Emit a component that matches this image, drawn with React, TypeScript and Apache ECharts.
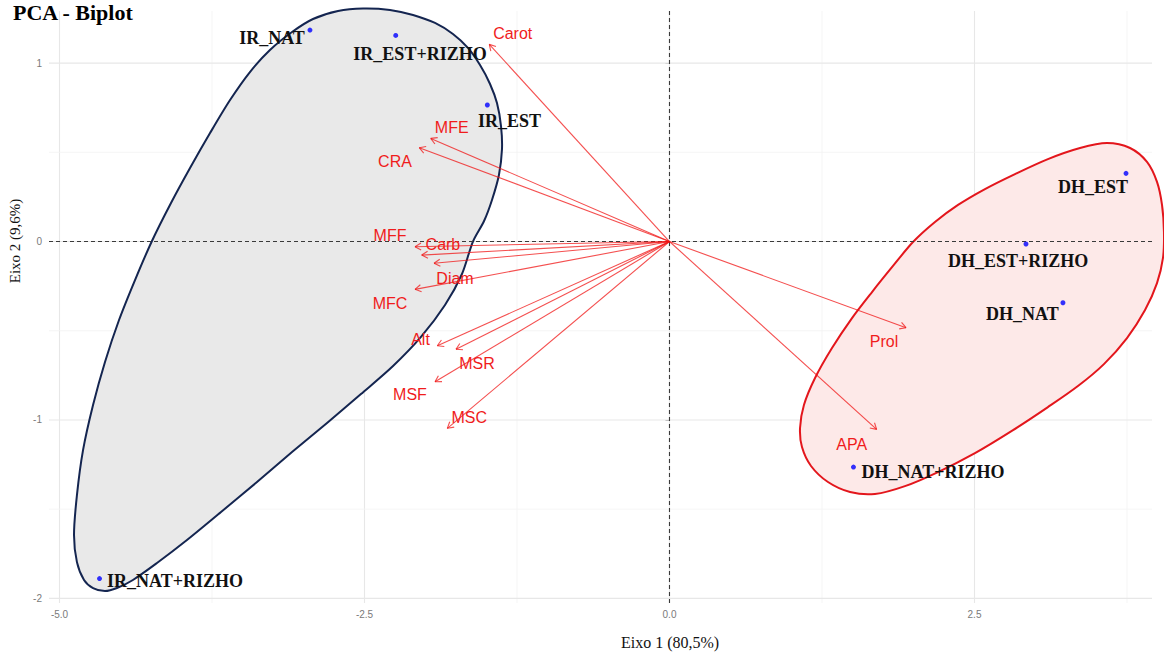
import React, { useEffect, useRef } from "react";
import * as echarts from "echarts";

// ---- data (PCA scores) ----
const obsNames = ["IR_NAT", "IR_EST+RIZHO", "IR_EST", "IR_NAT+RIZHO", "DH_EST", "DH_EST+RIZHO", "DH_NAT", "DH_NAT+RIZHO"];
const obsPC1 = [-2.947, -2.244, -1.493, -4.672, 3.742, 2.922, 3.225, 1.508];
const obsPC2 = [1.185, 1.155, 0.765, -1.889, 0.382, -0.014, -0.343, -1.264];
// repelled label anchors (data units)
const obsLabelPC1 = [-3.258, -2.045, -1.311, -4.053, 3.471, 2.857, 2.893, 2.16];
const obsLabelPC2 = [1.138, 1.051, 0.675, -1.903, 0.307, -0.107, -0.406, -1.294];

const varNames = ["Carot", "MFE", "CRA", "MFF", "Carb", "Diam", "MFC", "Alt", "MSR", "MSF", "MSC", "Prol", "APA"];
const varPC1 = [-1.477, -1.957, -2.051, -2.086, -2.031, -1.93, -2.086, -1.903, -1.75, -1.922, -1.821, 1.939, 1.698];
const varPC2 = [1.105, 0.578, 0.526, -0.029, -0.076, -0.122, -0.268, -0.584, -0.604, -0.786, -1.047, -0.483, -1.053];
const varLabelPC1 = [-1.285, -1.785, -2.25, -2.291, -1.857, -1.758, -2.291, -2.041, -1.578, -2.127, -1.641, 1.758, 1.493];
const varLabelPC2 = [1.167, 0.638, 0.451, 0.031, -0.014, -0.205, -0.35, -0.547, -0.681, -0.855, -0.985, -0.558, -1.135];

// group outlines (data units)
const irHullX = [-2.512, -2.291, -2.102, -1.922, -1.775, -1.652, -1.553, -1.471, -1.414, -1.381, -1.373, -1.398, -1.455, -1.52, -1.611, -1.701, -1.84, -2.037, -2.266, -2.529, -2.807, -3.094, -3.381, -3.676, -3.955, -4.201, -4.398, -4.529, -4.627, -4.725, -4.799, -4.857, -4.881, -4.857, -4.807, -4.725, -4.627, -4.512, -4.381, -4.242, -4.086, -3.93, -3.766, -3.602, -3.439, -3.275, -3.094, -2.922, -2.717];
const irHullY = [1.306, 1.298, 1.27, 1.225, 1.163, 1.085, 0.989, 0.883, 0.776, 0.647, 0.518, 0.373, 0.233, 0.115, 0, -0.182, -0.356, -0.535, -0.698, -0.855, -1.017, -1.18, -1.348, -1.516, -1.673, -1.802, -1.897, -1.942, -1.959, -1.942, -1.897, -1.797, -1.645, -1.421, -1.169, -0.916, -0.675, -0.44, -0.216, 0.003, 0.216, 0.412, 0.608, 0.793, 0.95, 1.073, 1.174, 1.247, 1.292];
const dhHullX = [3.586, 3.775, 3.914, 3.996, 4.037, 4.053, 4.045, 3.996, 3.898, 3.75, 3.561, 3.348, 3.102, 2.816, 2.504, 2.201, 1.93, 1.684, 1.48, 1.299, 1.16, 1.086, 1.07, 1.102, 1.193, 1.332, 1.496, 1.66, 1.832, 1.996, 2.176, 2.365, 2.586, 2.832, 3.102, 3.365];
const dhHullY = [0.552, 0.524, 0.446, 0.334, 0.205, 0.053, -0.092, -0.233, -0.384, -0.541, -0.687, -0.81, -0.928, -1.057, -1.186, -1.292, -1.371, -1.415, -1.404, -1.348, -1.258, -1.152, -1.045, -0.916, -0.765, -0.597, -0.429, -0.283, -0.137, -0.003, 0.109, 0.205, 0.294, 0.378, 0.462, 0.524];

const xMajor = [-5, -2.5, 0, 2.5];
const xMinor = [-3.75, -1.25, 1.25, 3.75];
const yMajor = [-2, -1, 0, 1];
const yMinor = [-1.5, -0.5, 0.5];

const X_MIN = -5.086;
const X_MAX = 3.955;
const Y_MIN = -2.026;
const Y_MAX = 1.292;

export default function App() {
  const ref = useRef<HTMLDivElement>(null);

  useEffect(() => {
    if (!ref.current) return;
    const chart = echarts.init(ref.current, undefined, { renderer: "svg" });

    const hullRender = (xs: number[], ys: number[], fill: string, stroke: string) =>
      (params: any, api: any) => {
        const pts = xs.map((x, i) => api.coord([x, ys[i]]));
        return {
          type: "polygon",
          shape: { points: pts, smooth: 0.3 },
          style: { fill, stroke, lineWidth: 2 },
        };
      };

    const gridData = [
      ...xMajor.map((v) => [v, 0, 1, 1]),
      ...xMinor.map((v) => [v, 0, 0, 1]),
      ...yMajor.map((v) => [0, v, 1, 0]),
      ...yMinor.map((v) => [0, v, 0, 0]),
    ];

    const option: any = {
      animation: false,
      backgroundColor: "#ffffff",
      grid: { left: 49, right: 12, top: 11, bottom: 52 },
      xAxis: {
        type: "value",
        min: X_MIN,
        max: X_MAX,
        splitLine: { show: false },
        axisLine: { show: false },
        axisTick: { show: true, customValues: xMajor, length: 4, lineStyle: { color: "#9a9a9a" } },
        axisLabel: {
          customValues: xMajor,
          formatter: (v: number) => v.toFixed(1),
          color: "#7a7a7a",
          fontSize: 10,
          margin: 6,
          fontFamily: "Liberation Sans",
        },
      },
      yAxis: {
        type: "value",
        min: Y_MIN,
        max: Y_MAX,
        splitLine: { show: false },
        axisLine: { show: false },
        axisTick: { show: true, customValues: yMajor, length: 4, lineStyle: { color: "#9a9a9a" } },
        axisLabel: {
          customValues: yMajor,
          formatter: (v: number) => String(v),
          color: "#7a7a7a",
          fontSize: 10,
          margin: 7,
          fontFamily: "Liberation Sans",
        },
      },
      graphic: [
        {
          type: "text",
          x: 13,
          y: 1,
          style: {
            text: "PCA - Biplot",
            fontSize: 22,
            fontWeight: "bold",
            fontFamily: "Liberation Serif",
            fill: "#000",
            verticalAlign: "top",
          },
        },
        {
          type: "text",
          x: 670,
          y: 642,
          style: {
            text: "Eixo 1 (80,5%)",
            fontSize: 16,
            fontFamily: "Liberation Serif",
            fill: "#111",
            align: "center",
            verticalAlign: "middle",
          },
        },
        {
          type: "text",
          x: 15,
          y: 241,
          rotation: Math.PI / 2,
          style: {
            text: "Eixo 2 (9,6%)",
            fontSize: 15,
            fontFamily: "Liberation Serif",
            fill: "#111",
            align: "center",
            verticalAlign: "middle",
          },
        },
      ],
      series: [
        {
          type: "custom",
          name: "grid",
          silent: true,
          z: 1,
          data: gridData,
          renderItem: (params: any, api: any) => {
            const a = api.value(0);
            const b = api.value(1);
            const major = api.value(2) === 1;
            const vertical = api.value(3) === 1;
            const p1 = vertical ? api.coord([a, Y_MIN]) : api.coord([X_MIN, b]);
            const p2 = vertical ? api.coord([a, Y_MAX]) : api.coord([X_MAX, b]);
            return {
              type: "line",
              shape: { x1: p1[0], y1: p1[1], x2: p2[0], y2: p2[1] },
              style: { stroke: major ? "#e7e7e7" : "#f2f2f2", lineWidth: major ? 1.1 : 0.8 },
            };
          },
        },
        {
          type: "custom",
          name: "IR",
          silent: true,
          z: 2,
          clip: false,
          data: [[0, 0]],
          renderItem: hullRender(irHullX, irHullY, "#e9e9e9", "#142550"),
        },
        {
          type: "custom",
          name: "DH",
          silent: true,
          z: 2,
          clip: false,
          data: [[0, 0]],
          renderItem: hullRender(dhHullX, dhHullY, "#fde9e8", "#e3161c"),
        },
        {
          type: "custom",
          name: "zero",
          silent: true,
          z: 3,
          data: [[0, 0]],
          renderItem: (params: any, api: any) => {
            const h1 = api.coord([X_MIN, 0]);
            const h2 = api.coord([X_MAX, 0]);
            const v1 = api.coord([0, Y_MIN]);
            const v2 = api.coord([0, Y_MAX]);
            const st = { stroke: "#3a3a3a", lineWidth: 1.1, lineDash: [4, 3] };
            return {
              type: "group",
              children: [
                { type: "line", shape: { x1: h1[0], y1: h1[1], x2: h2[0], y2: h2[1] }, style: st },
                { type: "line", shape: { x1: v1[0], y1: v1[1], x2: v2[0], y2: v2[1] }, style: st },
              ],
            };
          },
        },
        {
          type: "custom",
          name: "arrows",
          silent: true,
          z: 4,
          data: varPC1.map((x, i) => [x, varPC2[i]]),
          renderItem: (params: any, api: any) => {
            const o = api.coord([0, 0]);
            const h = api.coord([api.value(0), api.value(1)]);
            const ang = Math.atan2(h[1] - o[1], h[0] - o[0]);
            const len = 7;
            const a1 = ang + Math.PI - Math.PI / 6;
            const a2 = ang + Math.PI + Math.PI / 6;
            const st = { stroke: "rgba(240,20,20,0.75)", lineWidth: 1.1 };
            return {
              type: "group",
              children: [
                { type: "line", shape: { x1: o[0], y1: o[1], x2: h[0], y2: h[1] }, style: st },
                { type: "line", shape: { x1: h[0], y1: h[1], x2: h[0] + len * Math.cos(a1), y2: h[1] + len * Math.sin(a1) }, style: st },
                { type: "line", shape: { x1: h[0], y1: h[1], x2: h[0] + len * Math.cos(a2), y2: h[1] + len * Math.sin(a2) }, style: st },
              ],
            };
          },
        },
        {
          type: "custom",
          name: "varLabels",
          silent: true,
          z: 5,
          data: varLabelPC1.map((x, i) => [x, varLabelPC2[i], i]),
          renderItem: (params: any, api: any) => {
            const p = api.coord([api.value(0), api.value(1)]);
            return {
              type: "text",
              x: p[0],
              y: p[1],
              style: {
                text: varNames[api.value(2)],
                fill: "#f01c1c",
                fontSize: 16,
                fontFamily: "Liberation Sans",
                align: "center",
                verticalAlign: "middle",
              },
            };
          },
        },
        {
          type: "scatter",
          name: "obs",
          silent: true,
          z: 6,
          symbolSize: 5,
          itemStyle: { color: "#0000ff" },
          data: obsPC1.map((x, i) => [x, obsPC2[i]]),
        },
        {
          type: "custom",
          name: "obsLabels",
          silent: true,
          z: 7,
          data: obsLabelPC1.map((x, i) => [x, obsLabelPC2[i], i]),
          renderItem: (params: any, api: any) => {
            const p = api.coord([api.value(0), api.value(1)]);
            return {
              type: "text",
              x: p[0],
              y: p[1],
              style: {
                text: obsNames[api.value(2)],
                fill: "#111111",
                fontSize: 18,
                fontWeight: "bold",
                fontFamily: "Liberation Serif",
                align: "center",
                verticalAlign: "middle",
              },
            };
          },
        },
      ],
    };

    chart.setOption(option);
    return () => chart.dispose();
  }, []);

  return (
    <div
      ref={ref}
      style={{ position: "absolute", left: 0, top: 0, width: 1164, height: 655, background: "#fff" }}
    />
  );
}
